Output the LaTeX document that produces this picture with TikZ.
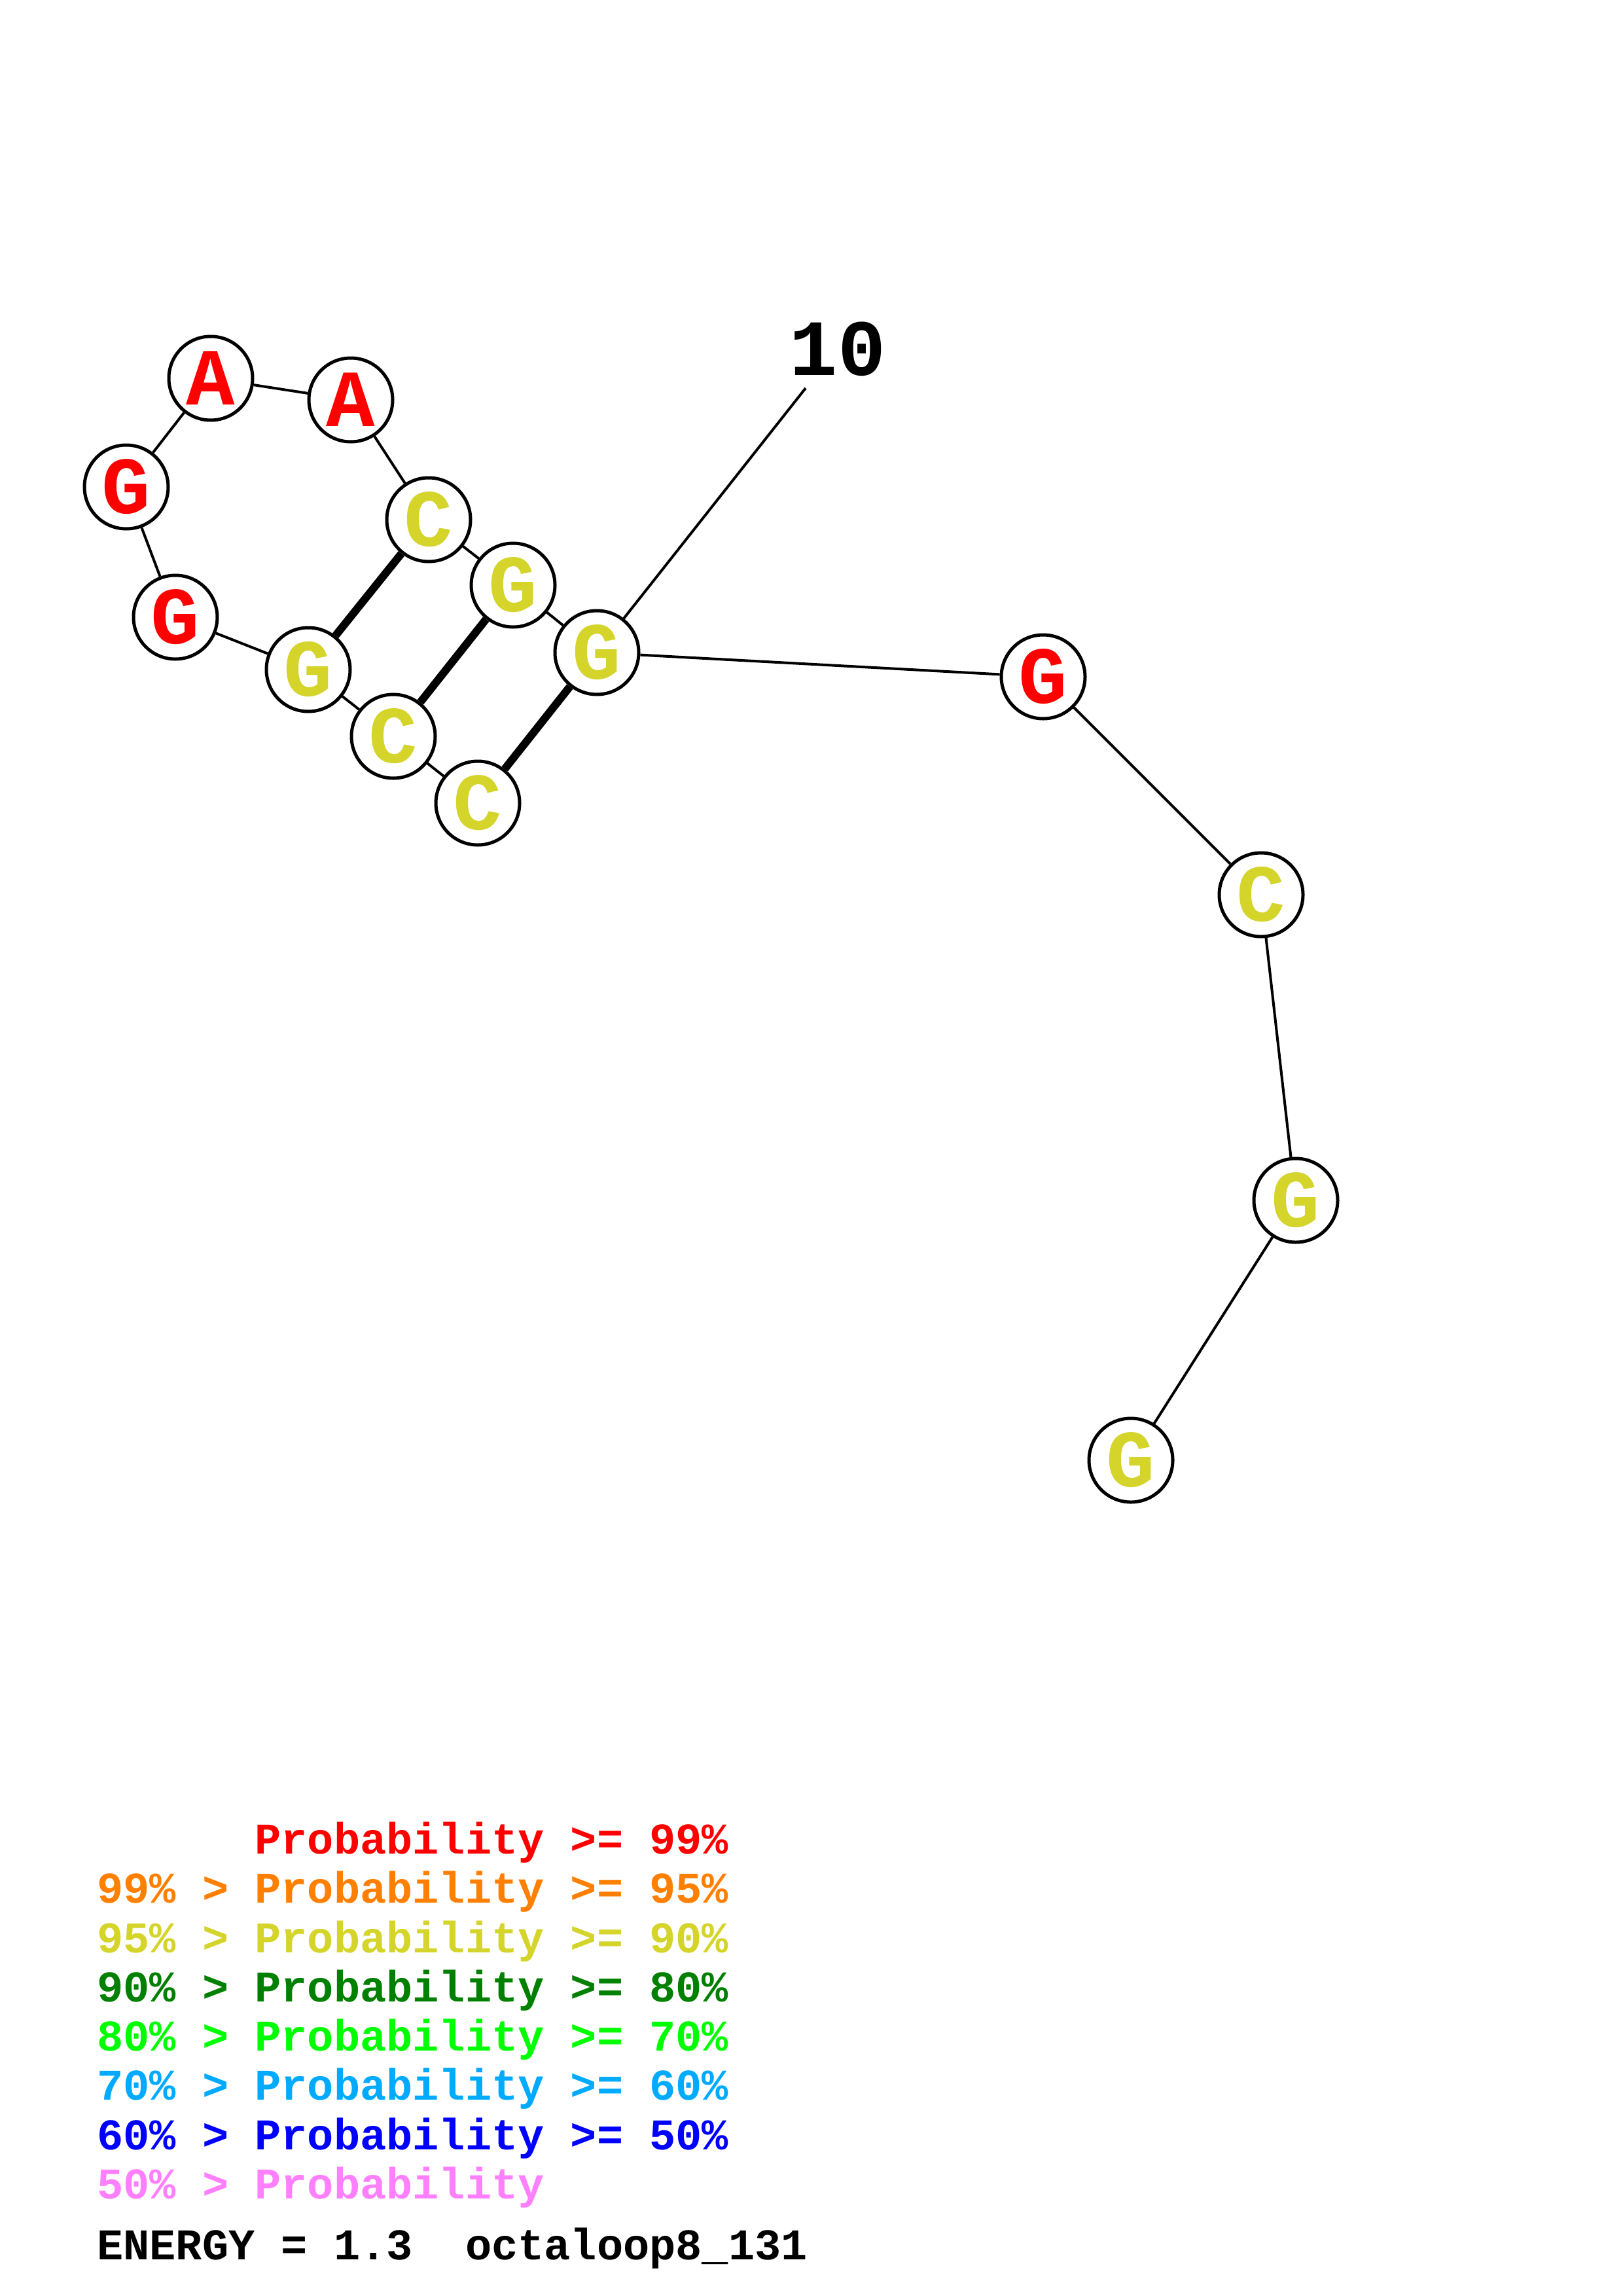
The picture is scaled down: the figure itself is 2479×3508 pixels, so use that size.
\documentclass[tikz,border=0pt]{standalone}
\usepackage{fontspec}
\newfontfamily\cour{Liberation Mono}
\definecolor{pred}{RGB}{255,0,0}
\definecolor{porange}{RGB}{255,128,0}
\definecolor{pyellow}{RGB}{212,212,42}
\definecolor{pdgreen}{RGB}{0,128,0}
\definecolor{pgreen}{RGB}{0,255,0}
\definecolor{plblue}{RGB}{0,170,255}
\definecolor{pblue}{RGB}{0,0,255}
\definecolor{ppink}{RGB}{255,128,255}
\begin{document}
\begin{tikzpicture}[x=1pt,y=-1pt,
  nt/.style={circle, draw=black, line width=5pt, fill=white, minimum size=128pt, inner sep=0pt,
    font=\cour\bfseries\fontsize{124}{124}\selectfont},
  bb/.style={line width=4pt, black},
  pair/.style={line width=12pt, black},
  leg/.style={anchor=base west, inner sep=0pt, font=\cour\bfseries\fontsize{67}{67}\selectfont}]
\useasboundingbox (0,0) rectangle (2479,3508);
\fill[white] (0,0) rectangle (2479,3508);
% nucleotides 5' -> 3'
\node[nt, text=pyellow] (n1)  at (730,1227) {C};
\node[nt, text=pyellow] (n2)  at (601,1125) {C};
\node[nt, text=pyellow] (n3)  at (471,1023) {G};
\node[nt, text=pred]    (n4)  at (268,943)  {G};
\node[nt, text=pred]    (n5)  at (193,744)  {G};
\node[nt, text=pred]    (n6)  at (322,578)  {A};
\node[nt, text=pred]    (n7)  at (536,611)  {A};
\node[nt, text=pyellow] (n8)  at (655,794)  {C};
\node[nt, text=pyellow] (n9)  at (784,894)  {G};
\node[nt, text=pyellow] (n10) at (912,997)  {G};
\node[nt, text=pred]    (n11) at (1594,1034) {G};
\node[nt, text=pyellow] (n12) at (1927,1367) {C};
\node[nt, text=pyellow] (n13) at (1980,1834) {G};
\node[nt, text=pyellow] (n14) at (1728,2231) {G};
% backbone
\draw[bb] (n1)--(n2) (n2)--(n3) (n3)--(n4) (n4)--(n5) (n5)--(n6) (n6)--(n7) (n7)--(n8)
  (n8)--(n9) (n9)--(n10) (n10)--(n11) (n11)--(n12) (n12)--(n13) (n13)--(n14);
% pairs
\draw[pair] (n1)--(n10) (n2)--(n9) (n3)--(n8);
% label 10
\coordinate (t10) at (1231,593);
\draw[bb] (n10)--(t10);
\node[anchor=base, inner sep=0pt, font=\cour\bfseries\fontsize{122}{122}\selectfont] (l10) at (1280,573) {10};
% legend
\node[leg, text=pred]     (r1) at (148,2832) {\hphantom{99\% > }Probability >= 99\%};
\node[leg, text=porange]  (r2) at (148,2907) {99\% > Probability >= 95\%};
\node[leg, text=pyellow]  (r3) at (148,2983) {95\% > Probability >= 90\%};
\node[leg, text=pdgreen]  (r4) at (148,3058) {90\% > Probability >= 80\%};
\node[leg, text=pgreen]   (r5) at (148,3133) {80\% > Probability >= 70\%};
\node[leg, text=plblue]   (r6) at (148,3208) {70\% > Probability >= 60\%};
\node[leg, text=pblue]    (r7) at (148,3284) {60\% > Probability >= 50\%};
\node[leg, text=ppink]    (r8) at (148,3359) {50\% > Probability};
\node[leg, text=black]    (en) at (148,3452) {ENERGY = 1.3\ \ octaloop8\_131};
\end{tikzpicture}
\end{document}
